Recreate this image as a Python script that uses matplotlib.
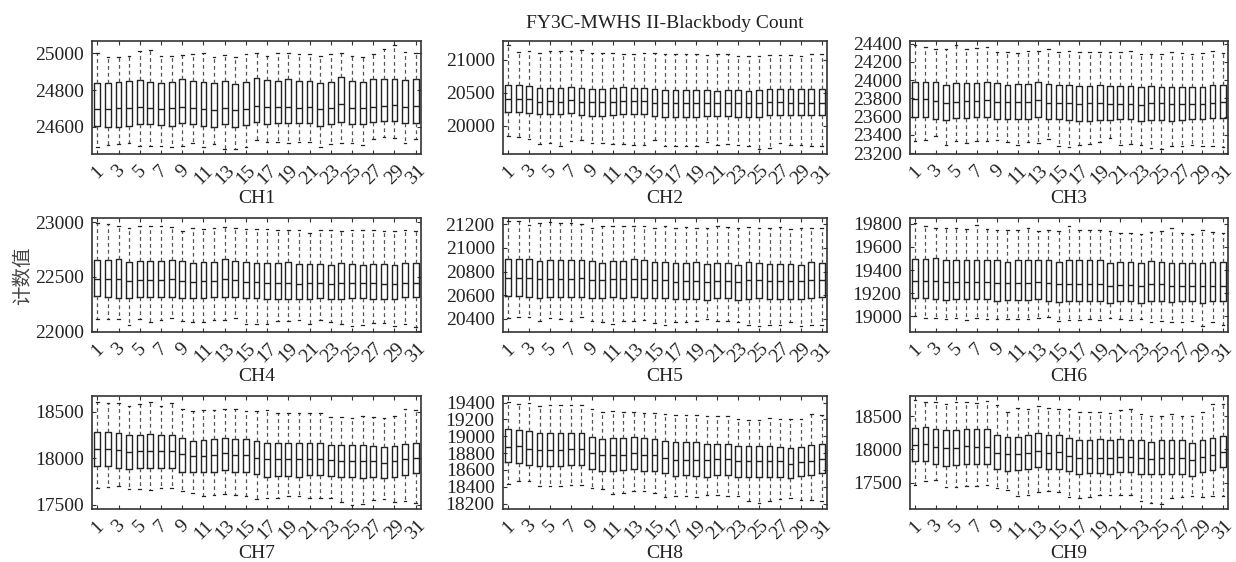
import matplotlib
matplotlib.use("Agg")
import matplotlib.pyplot as plt

plt.rcParams['font.family'] = ['Liberation Serif', 'Noto Sans CJK SC']

days = list(range(1, 32))
tick_days = list(range(1, 32, 2))
channels = ["CH1", "CH2", "CH3", "CH4", "CH5", "CH6", "CH7", "CH8", "CH9"]
title = "FY3C-MWHS II-Blackbody Count"
ylabel = "计数值"

# CH1
ch1_q3 = [24836, 24840, 24845, 24849, 24855, 24845, 24840, 24842, 24858, 24849, 24842, 24836, 24849, 24833, 24845, 24864,
          24855, 24851, 24860, 24851, 24851, 24838, 24845, 24869, 24849, 24845, 24858, 24858, 24862, 24855, 24858]
ch1_q1 = [24604, 24600, 24600, 24605, 24613, 24615, 24609, 24604, 24618, 24613, 24604, 24596, 24613, 24595, 24609, 24624,
          24615, 24618, 24618, 24618, 24618, 24605, 24615, 24627, 24615, 24613, 24627, 24633, 24633, 24618, 24622]
ch1_med = [24695, 24695, 24700, 24700, 24709, 24700, 24698, 24700, 24709, 24704, 24695, 24691, 24704, 24691, 24698, 24715,
           24709, 24705, 24709, 24704, 24705, 24695, 24700, 24722, 24700, 24700, 24709, 24713, 24718, 24705, 24713]
ch1_hi = [25000, 24978, 24982, 24985, 25015, 25018, 24985, 24985, 24991, 24996, 25004, 24978, 24989, 24978, 24995, 25004,
          24985, 25000, 25000, 24995, 24996, 24985, 24996, 25004, 24985, 24982, 24995, 25022, 25045, 25009, 25000]
ch1_lo = [24491, 24500, 24505, 24509, 24496, 24496, 24496, 24487, 24496, 24509, 24491, 24505, 24476, 24476, 24487, 24527,
          24513, 24518, 24509, 24518, 24518, 24487, 24505, 24509, 24509, 24500, 24531, 24542, 24536, 24509, 24531]

# CH2
ch2_q3 = [20613, 20613, 20603, 20573, 20573, 20573, 20588, 20563, 20548, 20548, 20563, 20578, 20573, 20563, 20548, 20538,
          20538, 20538, 20538, 20538, 20528, 20538, 20538, 20528, 20538, 20548, 20548, 20548, 20548, 20548, 20548]
ch2_q1 = [20211, 20211, 20196, 20171, 20171, 20171, 20186, 20161, 20146, 20146, 20161, 20176, 20171, 20171, 20146, 20136,
          20136, 20136, 20136, 20146, 20146, 20146, 20136, 20126, 20136, 20161, 20161, 20161, 20161, 20161, 20161]
ch2_med = [20407, 20407, 20397, 20362, 20372, 20362, 20387, 20362, 20352, 20362, 20362, 20377, 20372, 20372, 20347, 20337,
           20337, 20337, 20347, 20337, 20337, 20347, 20337, 20337, 20337, 20352, 20352, 20347, 20347, 20347, 20347]
ch2_hi = [21226, 21116, 21131, 21101, 21126, 21131, 21131, 21141, 21101, 21101, 21101, 21080, 21080, 21101, 21101, 21090,
          21090, 21080, 21080, 21065, 21090, 21090, 21050, 21050, 21050, 21065, 21065, 21065, 21050, 21090, 21080]
ch2_lo = [19834, 19819, 19794, 19719, 19734, 19683, 19759, 19784, 19734, 19734, 19724, 19719, 19709, 19709, 19774, 19693,
          19693, 19683, 19693, 19744, 19709, 19719, 19709, 19683, 19648, 19658, 19734, 19709, 19709, 19693, 19683]

# CH3
ch3_q3 = [23982, 23982, 23982, 23945, 23964, 23964, 23971, 23975, 23964, 23945, 23953, 23953, 23975, 23953, 23945, 23945,
          23938, 23938, 23945, 23938, 23935, 23935, 23920, 23935, 23927, 23927, 23927, 23927, 23920, 23945, 23945]
ch3_q1 = [23593, 23593, 23575, 23564, 23582, 23589, 23593, 23593, 23571, 23571, 23575, 23575, 23593, 23575, 23575, 23564,
          23553, 23556, 23564, 23564, 23571, 23571, 23556, 23564, 23564, 23556, 23564, 23571, 23571, 23582, 23589]
ch3_med = [23789, 23789, 23775, 23753, 23764, 23775, 23775, 23782, 23764, 23764, 23764, 23764, 23782, 23753, 23753, 23746,
           23738, 23746, 23746, 23738, 23738, 23738, 23727, 23746, 23746, 23738, 23738, 23738, 23738, 23753, 23764]
ch3_hi = [24389, 24364, 24335, 24335, 24382, 24345, 24353, 24364, 24309, 24309, 24298, 24320, 24320, 24345, 24309, 24320,
          24309, 24309, 24309, 24309, 24309, 24320, 24291, 24284, 24284, 24309, 24302, 24291, 24302, 24320, 24302]
ch3_lo = [23327, 23345, 23382, 23284, 23327, 23309, 23335, 23327, 23345, 23316, 23291, 23316, 23309, 23353, 23273, 23262,
          23291, 23302, 23316, 23364, 23291, 23302, 23291, 23255, 23244, 23280, 23280, 23291, 23273, 23273, 23266]

# CH4
ch4_q3 = [22653, 22653, 22660, 22638, 22644, 22644, 22644, 22653, 22644, 22623, 22638, 22638, 22663, 22647, 22632, 22629,
          22623, 22623, 22638, 22614, 22617, 22617, 22607, 22623, 22617, 22607, 22614, 22614, 22607, 22629, 22623]
ch4_q1 = [22322, 22316, 22307, 22301, 22310, 22310, 22310, 22316, 22301, 22301, 22307, 22310, 22316, 22316, 22301, 22301,
          22292, 22295, 22295, 22292, 22295, 22301, 22295, 22295, 22307, 22301, 22295, 22295, 22295, 22310, 22310]
ch4_med = [22482, 22482, 22476, 22460, 22469, 22469, 22469, 22479, 22463, 22454, 22460, 22460, 22479, 22469, 22454, 22454,
           22439, 22439, 22445, 22433, 22439, 22439, 22433, 22439, 22439, 22439, 22439, 22433, 22433, 22445, 22445]
ch4_hi = [22991, 22982, 22960, 22945, 22960, 22960, 22960, 22954, 22920, 22945, 22939, 22945, 22951, 22945, 22939, 22936,
          22936, 22929, 22929, 22929, 22899, 22929, 22929, 22914, 22929, 22923, 22929, 22914, 22920, 22929, 22914]
ch4_lo = [22117, 22117, 22117, 22062, 22117, 22086, 22101, 22126, 22095, 22086, 22086, 22101, 22108, 22126, 22065, 22071,
          22071, 22095, 22095, 22108, 22065, 22101, 22086, 22071, 22049, 22055, 22077, 22077, 22049, 22071, 22040]

# CH5
ch5_q3 = [20903, 20903, 20909, 20889, 20895, 20895, 20895, 20895, 20886, 20871, 20886, 20886, 20903, 20895, 20880, 20880,
          20874, 20874, 20880, 20865, 20871, 20871, 20860, 20880, 20874, 20865, 20865, 20865, 20860, 20880, 20874]
ch5_q1 = [20595, 20595, 20583, 20575, 20583, 20583, 20589, 20589, 20575, 20575, 20583, 20580, 20589, 20580, 20575, 20575,
          20566, 20569, 20569, 20560, 20575, 20575, 20560, 20569, 20575, 20569, 20569, 20569, 20569, 20580, 20583]
ch5_med = [20743, 20743, 20743, 20735, 20740, 20740, 20740, 20743, 20729, 20729, 20735, 20735, 20740, 20735, 20726, 20726,
           20714, 20720, 20720, 20711, 20720, 20720, 20711, 20726, 20726, 20720, 20720, 20720, 20720, 20726, 20726]
ch5_hi = [21229, 21229, 21194, 21209, 21220, 21209, 21209, 21200, 21171, 21185, 21185, 21185, 21185, 21185, 21171, 21185,
          21171, 21177, 21171, 21165, 21185, 21180, 21171, 21177, 21171, 21171, 21177, 21156, 21171, 21171, 21165]
ch5_lo = [20409, 20420, 20420, 20385, 20406, 20400, 20385, 20414, 20385, 20371, 20356, 20385, 20385, 20391, 20362, 20351,
          20371, 20371, 20380, 20400, 20385, 20385, 20371, 20351, 20342, 20351, 20351, 20371, 20342, 20351, 20351]

# CH6
ch6_q3 = [19494, 19494, 19506, 19486, 19491, 19486, 19486, 19486, 19486, 19471, 19486, 19486, 19491, 19486, 19471, 19486,
          19486, 19486, 19491, 19463, 19471, 19471, 19457, 19477, 19471, 19463, 19463, 19463, 19457, 19471, 19466]
ch6_q1 = [19157, 19157, 19151, 19143, 19149, 19149, 19151, 19151, 19137, 19143, 19143, 19143, 19151, 19137, 19123, 19137,
          19137, 19137, 19137, 19120, 19129, 19129, 19120, 19137, 19137, 19123, 19129, 19129, 19120, 19129, 19129]
ch6_med = [19309, 19309, 19309, 19300, 19300, 19294, 19294, 19294, 19291, 19291, 19291, 19291, 19300, 19286, 19280, 19280,
           19280, 19280, 19280, 19263, 19271, 19271, 19263, 19277, 19277, 19263, 19263, 19263, 19263, 19263, 19263]
ch6_hi = [19806, 19777, 19763, 19763, 19763, 19757, 19791, 19757, 19743, 19743, 19749, 19763, 19734, 19743, 19737, 19780,
          19749, 19749, 19749, 19734, 19723, 19723, 19714, 19729, 19737, 19763, 19723, 19714, 19749, 19729, 19720]
ch6_lo = [19000, 18991, 18991, 18977, 18986, 18971, 18986, 18977, 18977, 18977, 18977, 18977, 18986, 18994, 18957, 18971,
          18971, 18977, 18966, 18991, 18977, 18966, 18977, 18949, 18957, 18949, 18949, 18957, 18920, 18949, 18929]

# CH7
ch7_q3 = [18284, 18284, 18274, 18249, 18249, 18256, 18249, 18249, 18214, 18189, 18196, 18206, 18221, 18206, 18203, 18185,
          18167, 18167, 18167, 18160, 18167, 18167, 18142, 18142, 18142, 18142, 18132, 18125, 18132, 18153, 18160]
ch7_q1 = [17922, 17922, 17900, 17886, 17893, 17893, 17900, 17900, 17858, 17851, 17851, 17858, 17875, 17858, 17851, 17829,
          17804, 17815, 17811, 17804, 17822, 17822, 17811, 17797, 17804, 17794, 17804, 17786, 17804, 17822, 17840]
ch7_med = [18103, 18103, 18089, 18071, 18078, 18078, 18078, 18078, 18043, 18025, 18025, 18036, 18053, 18036, 18036, 18007,
           17989, 17989, 17989, 17989, 17993, 17993, 17982, 17975, 17975, 17975, 17975, 17954, 17975, 17989, 18000]
ch7_hi = [18605, 18587, 18587, 18562, 18580, 18598, 18562, 18587, 18523, 18509, 18516, 18516, 18523, 18523, 18509, 18509,
          18516, 18488, 18480, 18488, 18488, 18480, 18445, 18445, 18434, 18452, 18445, 18434, 18452, 18523, 18516]
ch7_lo = [17680, 17697, 17705, 17669, 17669, 17662, 17680, 17680, 17655, 17626, 17598, 17609, 17616, 17609, 17591, 17562,
          17573, 17573, 17591, 17601, 17580, 17580, 17573, 17527, 17502, 17509, 17555, 17562, 17537, 17548, 17520]

# CH8
ch8_q3 = [19081, 19073, 19061, 19034, 19034, 19042, 19042, 19042, 18994, 18967, 18975, 18975, 18987, 18975, 18963, 18943,
          18928, 18928, 18928, 18908, 18908, 18908, 18884, 18884, 18884, 18884, 18876, 18857, 18876, 18896, 18908]
ch8_q1 = [18691, 18687, 18660, 18648, 18648, 18648, 18660, 18660, 18609, 18593, 18593, 18601, 18613, 18593, 18593, 18561,
          18530, 18542, 18530, 18522, 18542, 18542, 18522, 18514, 18522, 18522, 18522, 18502, 18530, 18542, 18561]
ch8_med = [18876, 18884, 18849, 18837, 18837, 18837, 18845, 18845, 18798, 18778, 18778, 18778, 18798, 18778, 18778, 18739,
           18719, 18719, 18719, 18719, 18727, 18727, 18711, 18711, 18711, 18711, 18711, 18672, 18699, 18711, 18727]
ch8_hi = [19408, 19380, 19400, 19361, 19376, 19369, 19369, 19369, 19321, 19290, 19302, 19290, 19290, 19282, 19282, 19270,
          19258, 19250, 19250, 19239, 19243, 19243, 19203, 19199, 19191, 19219, 19211, 19203, 19203, 19270, 19258]
ch8_lo = [18435, 18463, 18471, 18404, 18412, 18412, 18424, 18424, 18384, 18372, 18313, 18325, 18345, 18345, 18325, 18274,
          18286, 18286, 18278, 18306, 18298, 18294, 18286, 18235, 18207, 18227, 18254, 18266, 18246, 18246, 18235]

# CH9
ch9_q3 = [18328, 18338, 18313, 18288, 18288, 18313, 18303, 18303, 18217, 18192, 18192, 18212, 18242, 18217, 18217, 18177,
          18141, 18141, 18152, 18141, 18152, 18141, 18136, 18116, 18136, 18136, 18136, 18101, 18141, 18177, 18202]
ch9_q1 = [17823, 17823, 17783, 17758, 17773, 17788, 17788, 17783, 17712, 17682, 17697, 17707, 17732, 17712, 17712, 17682,
          17631, 17646, 17646, 17636, 17662, 17662, 17631, 17631, 17636, 17636, 17636, 17606, 17657, 17697, 17732]
ch9_med = [18066, 18076, 18040, 18015, 18025, 18051, 18040, 18035, 17950, 17939, 17939, 17950, 17975, 17950, 17960, 17909,
           17874, 17874, 17874, 17874, 17889, 17889, 17874, 17859, 17874, 17874, 17874, 17848, 17889, 17924, 17960]
ch9_hi = [18742, 18722, 18722, 18692, 18722, 18717, 18707, 18732, 18672, 18571, 18621, 18616, 18656, 18621, 18616, 18606,
          18571, 18566, 18566, 18556, 18591, 18606, 18540, 18505, 18505, 18540, 18505, 18505, 18566, 18692, 18682]
ch9_lo = [17470, 17520, 17546, 17429, 17434, 17444, 17455, 17460, 17419, 17384, 17303, 17308, 17354, 17379, 17359, 17278,
          17268, 17278, 17318, 17318, 17308, 17318, 17227, 17192, 17170, 17268, 17278, 17293, 17283, 17293, 17303]

all_stats = [
    (ch1_lo, ch1_q1, ch1_med, ch1_q3, ch1_hi),
    (ch2_lo, ch2_q1, ch2_med, ch2_q3, ch2_hi),
    (ch3_lo, ch3_q1, ch3_med, ch3_q3, ch3_hi),
    (ch4_lo, ch4_q1, ch4_med, ch4_q3, ch4_hi),
    (ch5_lo, ch5_q1, ch5_med, ch5_q3, ch5_hi),
    (ch6_lo, ch6_q1, ch6_med, ch6_q3, ch6_hi),
    (ch7_lo, ch7_q1, ch7_med, ch7_q3, ch7_hi),
    (ch8_lo, ch8_q1, ch8_med, ch8_q3, ch8_hi),
    (ch9_lo, ch9_q1, ch9_med, ch9_q3, ch9_hi),
]

ylims = [(24450, 25068), (19568, 21281), (23190, 24428),
         (21994, 23037), (20290, 21253), (18866, 19849),
         (17457, 18667), (18136, 19479), (17101, 18808)]
yticks = [[24600, 24800, 25000], [20000, 20500, 21000], [23200, 23400, 23600, 23800, 24000, 24200, 24400],
          [22000, 22500, 23000], [20400, 20600, 20800, 21000, 21200], [19000, 19200, 19400, 19600, 19800],
          [17500, 18000, 18500], [18200, 18400, 18600, 18800, 19000, 19200, 19400], [17500, 18000, 18500]]

W, H = 1236, 562
fig = plt.figure(figsize=(W / 100, H / 100), dpi=100)

col_x = [(92, 329), (503, 324), (910, 318)]
row_y = [(41, 113), (218, 114), (396, 113)]

ink = '#222222'
for i, name in enumerate(channels):
    r, c = divmod(i, 3)
    x0, w = col_x[c]
    y0, h = row_y[r]
    ax = fig.add_axes([x0 / W, 1 - (y0 + h) / H, w / W, h / H])
    lo, q1, med, q3, hi = all_stats[i]
    stats = [dict(whislo=lo[k], q1=q1[k], med=med[k], q3=q3[k], whishi=hi[k]) for k in range(len(days))]
    ax.bxp(stats, positions=days, widths=0.55, capwidths=0.25, showfliers=False,
           boxprops=dict(color=ink, linewidth=1.0),
           medianprops=dict(color=ink, linewidth=1.0),
           whiskerprops=dict(color='#555555', linewidth=0.9, linestyle=(0, (3, 2.5))),
           capprops=dict(color=ink, linewidth=0.9))
    ax.set_xlim(0.5, 31.5)
    ax.set_ylim(*ylims[i])
    ax.set_yticks(yticks[i])
    ax.set_xticks(tick_days)
    ax.set_xticklabels([str(d) for d in tick_days], rotation=45)
    ax.tick_params(direction='in', top=True, right=True, length=3, width=0.8,
                   labelsize=14, pad=6, colors='#333333', labelcolor=ink)
    for sp in ax.spines.values():
        sp.set_linewidth(1.2)
        sp.set_color('#333333')
    ax.set_xlabel(name, fontsize=14, color=ink, labelpad=1)
    if i == 1:
        ax.set_title(title, fontsize=14, color=ink, pad=9)

fig.text(0.018, 0.51, ylabel, rotation=90, fontsize=14, ha='center', va='center',
         color='#444444', family=['Noto Sans CJK SC', 'DejaVu Sans'])

fig.savefig("out.png", dpi=100)
